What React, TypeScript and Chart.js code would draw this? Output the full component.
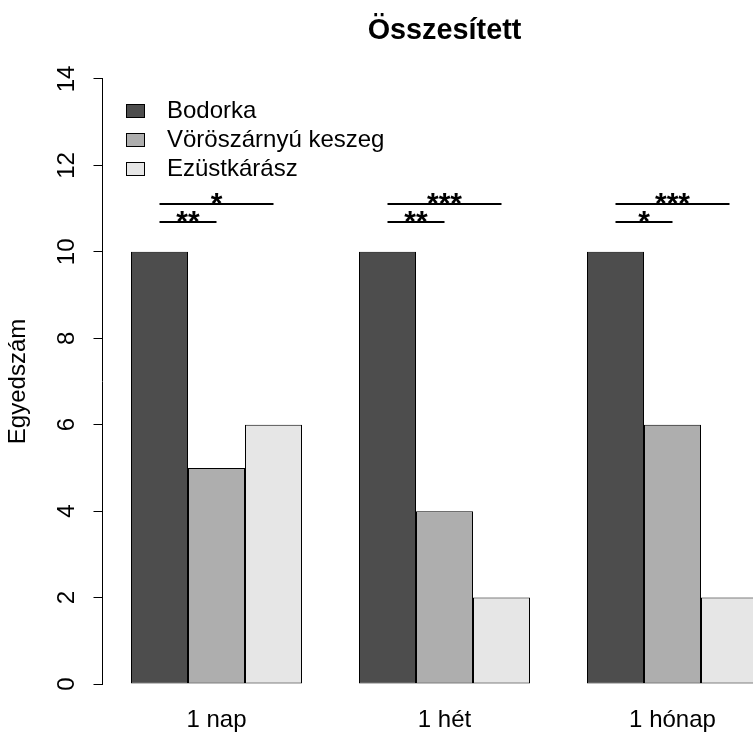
import React, { useEffect, useRef } from 'react';
import { Chart, registerables } from 'chart.js';

Chart.register(...registerables);

const FONT = '"Liberation Sans", Arial, Helvetica, sans-serif';

const chartTitle = 'Összesített';
const yAxisTitle = 'Egyedszám';
const categories = ['1 nap', '1 hét', '1 hónap'];
const seriesNames = ['Bodorka', 'Vöröszárnyú keszeg', 'Ezüstkárász'];
const bodorka = [10, 10, 10];
const voroszarnyuKeszeg = [5, 4, 6];
const ezustkarasz = [6, 2, 2];
const seriesColors = ['#4D4D4D', '#AEAEAE', '#E6E6E6'];
const yMin = 0;
const yMax = 14;
const yStep = 2;

// significance marks: Bodorka vs Ezüstkárász (upper line), Bodorka vs Vöröszárnyú keszeg (lower line)
const sigUpperLabels = ['*', '***', '***'];
const sigLowerLabels = ['**', '**', '*'];
const sigUpperLevel = 11.1;
const sigLowerLevel = 10.7;

const annotationPlugin = {
  id: 'annotations',
  afterDatasetsDraw(chart: any) {
    const ctx = chart.ctx;
    const yScale = chart.scales.y;
    const metas = [0, 1, 2].map((i) => chart.getDatasetMeta(i));
    const area = chart.chartArea;
    ctx.save();
    // significance lines
    ctx.strokeStyle = '#000';
    ctx.fillStyle = '#000';
    ctx.lineWidth = 2;
    ctx.font = `bold 30px ${FONT}`;
    ctx.textAlign = 'center';
    ctx.textBaseline = 'alphabetic';
    const drawSig = (j: number, toIdx: number, level: number, label: string) => {
      const x1 = metas[0].data[j].x;
      const x2 = metas[toIdx].data[j].x;
      const py = Math.round(yScale.getPixelForValue(level));
      ctx.beginPath();
      ctx.moveTo(x1, py);
      ctx.lineTo(x2, py);
      ctx.stroke();
      ctx.fillText(label, (x1 + x2) / 2, py + 9);
    };
    categories.forEach((_, j) => {
      drawSig(j, 2, sigUpperLevel, sigUpperLabels[j]);
      drawSig(j, 1, sigLowerLevel, sigLowerLabels[j]);
    });
    // legend
    ctx.font = `24px ${FONT}`;
    ctx.textAlign = 'left';
    ctx.textBaseline = 'middle';
    ctx.lineWidth = 1;
    seriesNames.forEach((name, i) => {
      const cy = area.top + 32 + i * 29;
      const bx = Math.round(area.left + 23);
      ctx.fillStyle = seriesColors[i];
      ctx.fillRect(bx, Math.round(cy - 7), 19, 14);
      ctx.strokeStyle = '#000';
      ctx.strokeRect(bx + 0.5, Math.round(cy - 7) + 0.5, 18, 13);
      ctx.fillStyle = '#000';
      ctx.fillText(name, Math.round(area.left + 64), cy);
    });
    ctx.restore();
  },
};

export default function App() {
  const canvasRef = useRef<HTMLCanvasElement | null>(null);

  useEffect(() => {
    if (!canvasRef.current) return;
    Chart.defaults.font.family = FONT;
    const values = [bodorka, voroszarnyuKeszeg, ezustkarasz];
    const chart = new Chart(canvasRef.current, {
      type: 'bar',
      data: {
        labels: categories,
        datasets: seriesNames.map((name, i) => ({
          label: name,
          data: values[i],
          backgroundColor: seriesColors[i],
          borderColor: '#000',
          borderWidth: 1,
          borderSkipped: false,
          categoryPercentage: 0.75,
          barPercentage: 1,
        })),
      },
      options: {
        responsive: false,
        animation: false,
        layout: { padding: { left: 0, top: 0, bottom: 0, right: 0.5 } },
        plugins: {
          legend: { display: false },
          tooltip: { enabled: false },
          title: {
            display: true,
            text: chartTitle,
            color: '#000',
            fullSize: false,
            font: { family: FONT, size: 28.8, weight: 'bold' },
            padding: { top: 13.7, bottom: 30.7 },
          },
        },
        scales: {
          x: {
            type: 'category',
            grid: { display: false, drawTicks: false },
            border: { display: false },
            ticks: { color: '#000', font: { family: FONT, size: 24 }, padding: 21.5 },
            afterFit: (s: any) => { s.height = 50; },
          },
          y: {
            min: yMin,
            max: yMax,
            ticks: {
              stepSize: yStep,
              minRotation: 90,
              maxRotation: 90,
              crossAlign: 'center',
              padding: 13,
              color: '#000',
              font: { family: FONT, size: 24 },
            },
            grid: {
              display: true,
              drawOnChartArea: false,
              drawTicks: true,
              tickLength: 9,
              color: '#000',
              lineWidth: 1,
            },
            border: { display: true, color: '#000', width: 1 },
            title: {
              display: true,
              text: yAxisTitle,
              color: '#000',
              font: { family: FONT, size: 24 },
              padding: { top: 4, bottom: 0 },
            },
            afterFit: (s: any) => { s.width = 102.5; },
          },
        },
      },
      plugins: [annotationPlugin],
    });
    return () => chart.destroy();
  }, []);

  return (
    <div style={{ position: 'fixed', left: 0, top: 0, width: 753, height: 734, overflow: 'hidden', background: '#fff' }}>
      <canvas ref={canvasRef} width={787} height={734} style={{ display: 'block' }} />
    </div>
  );
}
